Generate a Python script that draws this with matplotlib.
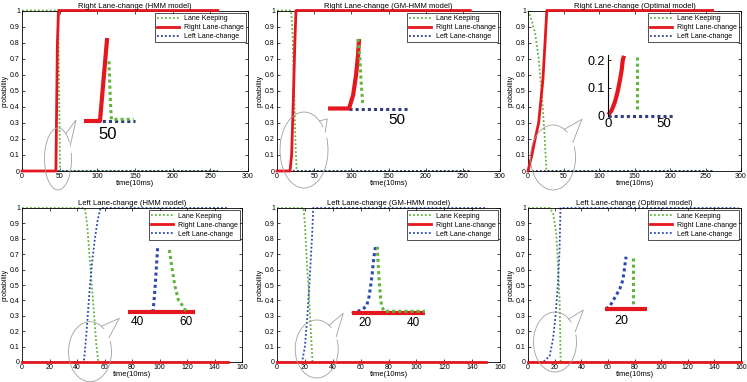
import math
import matplotlib
matplotlib.use("Agg")
import matplotlib.pyplot as plt
from matplotlib.patches import Arc
from matplotlib.lines import Line2D
from matplotlib.transforms import Affine2D

plt.rcParams['font.family'] = ['Liberation Sans', 'DejaVu Sans']

W, H = 747, 382
GREEN = '#62b43c'
RED = '#e5161d'
NAVY = '#2f3d80'
BLUE = '#2c48b0'
GRAY = '#a0a0a0'

titles = ["Right Lane-change (HMM model)", "Right Lane-change (GM-HMM model)",
          "Right Lane-change (Optimal model)", "Left Lane-change (HMM model)",
          "Left Lane-change (GM-HMM model)", "Left Lane-change (Optimal model)"]
labels = ["Lane Keeping", "Right Lane-change", "Left Lane-change"]

# --- main curves (time in 10 ms, probability) ---
a_t_lk, a_p_lk = [0, 47, 48.5, 49.5, 50.5, 260], [1, 1, 0.8, 0.4, 0, 0]
a_t_rlc, a_p_rlc = [0, 45, 47, 48.5, 260], [0, 0, 0.8, 1, 1]
a_t_llc, a_p_llc = [0, 260], [0, 0]

b_t_lk, b_p_lk = [0, 19, 21, 23, 25, 26.5, 260], [1, 1, 0.85, 0.5, 0.15, 0, 0]
b_t_rlc, b_p_rlc = [0, 17.5, 19.7, 22, 24, 25.5, 260], [0, 0, 0.1, 0.45, 0.8, 1, 1]
b_t_llc, b_p_llc = [0, 260], [0, 0]

c_t_lk, c_p_lk = [0, 5, 10, 15, 19, 23, 26, 260], [1, 0.94, 0.86, 0.7, 0.5, 0.25, 0, 0]
c_t_rlc, c_p_rlc = [0, 5.5, 10, 15, 21, 24, 26.5, 260], [0, 0.1, 0.2, 0.3, 0.57, 0.8, 1, 1]
c_t_llc, c_p_llc = [0, 260], [0, 0]

d_t_lk, d_p_lk = [0, 45.8, 47.5, 49, 50.7, 52.5, 54, 55.5, 150], [1, 1, 0.88, 0.7, 0.5, 0.3, 0.12, 0, 0]
d_t_rlc, d_p_rlc = [0, 150], [0, 0]
d_t_llc, d_p_llc = [0, 45, 47, 49, 51, 53, 55, 57, 150], [0, 0, 0.2, 0.45, 0.65, 0.8, 0.92, 1, 1]

e_t_lk, e_p_lk = [0, 19, 20, 21, 22.5, 24, 25.5, 150], [1, 1, 0.9, 0.72, 0.5, 0.25, 0, 0]
e_t_rlc, e_p_rlc = [0, 150], [0, 0]
e_t_llc, e_p_llc = [0, 18, 20, 21.8, 23.2, 25.3, 26, 150], [0, 0, 0.1, 0.3, 0.5, 0.84, 1, 1]

f_t_lk, f_p_lk = [0, 16, 18.8, 21.2, 22.5, 23.7, 24.2, 24.5, 160], [1, 1, 0.97, 0.84, 0.62, 0.41, 0.19, 0, 0]
f_t_rlc, f_p_rlc = [0, 160], [0, 0]
f_t_llc, f_p_llc = [0, 11.4, 16.3, 18.8, 20.7, 22.5, 23.7, 24.4, 158], [0, 0, 0.04, 0.15, 0.3, 0.51, 0.73, 1, 1]

# --- zoomed insets ---
ia_t_lk, ia_p_lk = [50.6, 51.2, 51.8, 52.2, 66], [0.72, 0.4, 0.12, 0.02, 0.02]
ia_t_rlc, ia_p_rlc = [35, 45, 49.5], [0, 0, 1]
ia_t_llc, ia_p_llc = [35, 67], [0, 0]

ib_t_lk, ib_p_lk = [24, 25.3, 26, 27.1], [1, 0.7, 0.41, 0.08]
ib_t_rlc, ib_p_rlc = [4, 18, 20.7, 22.7, 24, 24.7], [0, 0, 0.19, 0.48, 0.77, 1]
ib_t_llc, ib_p_llc = [18, 58.7], [0, 0]

ic_t_lk, ic_p_lk = [25.9, 25.9], [0.21, 0.02]
ic_t_rlc, ic_p_rlc = [0.6, 3.6, 6.5, 8.9, 11, 12.5, 13.4, 14.6], [0.003, 0.02, 0.05, 0.087, 0.129, 0.165, 0.2, 0.215]
ic_t_llc, ic_p_llc = [0, 60], [0, 0]

id_t_lk, id_p_lk = [53.2, 54.2, 55.5, 56.9, 58.9, 60], [0.97, 0.71, 0.4, 0.185, 0.08, 0.01]
id_t_rlc, id_p_rlc = [36.3, 63.7], [0, 0]
id_t_llc, id_p_llc = [36.3, 46.5, 46.9, 47.5, 48.0, 48.4], [0, 0, 0.15, 0.45, 0.75, 1]

ie_t_lk, ie_p_lk = [25.2, 25.6, 26, 26.6, 27, 28, 44.8], [0.99, 0.69, 0.45, 0.2, 0.1, 0.03, 0.03]
ie_t_rlc, ie_p_rlc = [14.7, 44.8], [0, 0]
ie_t_llc, ie_p_llc = [14.7, 18.8, 20.8, 21.8, 22.6, 23.1, 23.5, 24, 24.5], [0, 0.05, 0.11, 0.25, 0.45, 0.59, 0.74, 0.89, 1]

if_t_lk, if_p_lk = [24.75, 24.75], [0.97, 0.04]
if_t_rlc, if_p_rlc = [13.2, 30.6], [0, 0]
if_t_llc, if_p_llc = [13.6, 15.3, 16.7, 18.1, 19.5, 20.4, 21.1, 21.5, 22], [0, 0.06, 0.17, 0.28, 0.4, 0.52, 0.68, 0.84, 1]

fig = plt.figure(figsize=(W / 100, H / 100), dpi=100)
# pixel coordinates measured from the top-left corner of the picture
px = Affine2D().scale(1 / W, -1 / H).translate(0, 1) + fig.transFigure


def box_axes(x0, x1, ytop, ybot):
    return fig.add_axes([x0 / W, 1 - ybot / H, (x1 - x0) / W, (ybot - ytop) / H])


def main_panel(box, title, xmax, xstep, lk, rlc, llc, blue):
    ax = box_axes(*box)
    ax.plot(lk[0], lk[1], color=GREEN, lw=1.3, ls=(0, (1, 1.2)), label=labels[0], clip_on=False)
    ax.plot(rlc[0], rlc[1], color=RED, lw=2.0, label=labels[1], clip_on=False, zorder=3)
    ax.plot(llc[0], llc[1], color=blue, lw=1.3, ls=(0, (1, 1.2)), label=labels[2], clip_on=False)
    ax.set_xlim(0, xmax)
    ax.set_ylim(0, 1)
    ax.set_xticks(range(0, xmax + 1, xstep))
    ax.set_yticks([i / 10 for i in range(11)])
    ax.set_yticklabels(['0'] + ['%.1f' % (i / 10) for i in range(1, 10)] + ['1'])
    ax.tick_params(direction='in', length=2, width=0.5, top=True, right=True,
                   labelsize=5, pad=1.5)
    for s in ax.spines.values():
        s.set_linewidth(0.6)
    ax.set_title(title, fontsize=5.5, pad=2)
    ax.set_xlabel("time(10ms)", fontsize=5.5, labelpad=0)
    ax.set_ylabel("probability", fontsize=5, labelpad=1)
    leg = ax.legend(loc='upper right', fontsize=5, fancybox=False, edgecolor='black',
                    borderaxespad=0.35, handlelength=3.2, labelspacing=0.3,
                    borderpad=0.3, handletextpad=0.6)
    leg.get_frame().set_linewidth(0.6)
    return ax


def inset(box, xlim, ylim, lk, rlc, llc, blue, ticks, fs, pad):
    ax = box_axes(*box)
    ax.plot(llc[0], llc[1], color=blue, lw=2.2, ls=(0, (1, 1)), clip_on=False)
    ax.plot(rlc[0], rlc[1], color=RED, lw=3, clip_on=False, solid_capstyle='butt')
    ax.plot(lk[0], lk[1], color=GREEN, lw=2.2, ls=(0, (1, 1)), clip_on=False)
    ax.set_xlim(*xlim)
    ax.set_ylim(*ylim)
    ax.patch.set_visible(False)
    for s in ax.spines.values():
        s.set_visible(False)
    ax.set_yticks([])
    ax.set_xticks(ticks)
    ax.set_xticklabels([str(t) for t in ticks])
    ax.tick_params(axis='x', length=0, labelsize=fs, pad=pad)
    return ax


def bubble(cx, cy, w, h, g1, g2, tip):
    fig.add_artist(Arc((cx, cy), w, h, theta1=g2, theta2=g1 + 360,
                       transform=px, color=GRAY, lw=0.6))
    p1 = (cx + w / 2 * math.cos(math.radians(g1)), cy + h / 2 * math.sin(math.radians(g1)))
    p2 = (cx + w / 2 * math.cos(math.radians(g2)), cy + h / 2 * math.sin(math.radians(g2)))
    fig.add_artist(Line2D([p1[0], tip[0], p2[0]], [p1[1], tip[1], p2[1]],
                          transform=px, color=GRAY, lw=0.6))


# top row
main_panel((22, 248, 10.5, 171), titles[0], 300, 50,
           (a_t_lk, a_p_lk), (a_t_rlc, a_p_rlc), (a_t_llc, a_p_llc), NAVY)
main_panel((277, 500, 10.5, 171), titles[1], 300, 50,
           (b_t_lk, b_p_lk), (b_t_rlc, b_p_rlc), (b_t_llc, b_p_llc), NAVY)
main_panel((528, 741, 10.5, 171), titles[2], 300, 50,
           (c_t_lk, c_p_lk), (c_t_rlc, c_p_rlc), (c_t_llc, c_p_llc), NAVY)
# bottom row
main_panel((22, 242, 208, 362), titles[3], 160, 20,
           (d_t_lk, d_p_lk), (d_t_rlc, d_p_rlc), (d_t_llc, d_p_llc), BLUE)
main_panel((277, 500, 208, 362), titles[4], 160, 20,
           (e_t_lk, e_p_lk), (e_t_rlc, e_p_rlc), (e_t_llc, e_p_llc), BLUE)
main_panel((528, 741, 208, 362), titles[5], 160, 20,
           (f_t_lk, f_p_lk), (f_t_rlc, f_p_rlc), (f_t_llc, f_p_llc), BLUE)

# insets
inset((83, 135, 38, 121), (34.4, 66.9), (0, 1), (ia_t_lk, ia_p_lk), (ia_t_rlc, ia_p_rlc),
      (ia_t_llc, ia_p_llc), NAVY, [50], 12, 4)
inset((326.7, 410, 39, 108.5), (3.1, 58.7), (0, 1), (ib_t_lk, ib_p_lk), (ib_t_rlc, ib_p_rlc),
      (ib_t_llc, ib_p_llc), NAVY, [50], 11, 3.5)
axc = inset((607.7, 675, 55, 115.7), (0, 60), (0, 0.218), (ic_t_lk, ic_p_lk), (ic_t_rlc, ic_p_rlc),
            (ic_t_llc, ic_p_llc), NAVY, [0, 50], 9.5, 2)
axc.spines['left'].set_visible(True)
axc.spines['left'].set_linewidth(0.8)
axc.set_yticks([0, 0.1, 0.2])
axc.set_yticklabels(['0', '0.1', '0.2'])
axc.tick_params(axis='y', direction='in', length=2, width=0.6, labelsize=9, pad=2)
inset((128, 195, 248, 311.7), (36.3, 63.7), (0, 1), (id_t_lk, id_p_lk), (id_t_rlc, id_p_rlc),
      (id_t_llc, id_p_llc), BLUE, [40, 60], 8.5, 3)
inset((351.7, 425, 246, 313.3), (14.65, 44.8), (0, 1), (ie_t_lk, ie_p_lk), (ie_t_rlc, ie_p_rlc),
      (ie_t_llc, ie_p_llc), BLUE, [20, 40], 8.5, 3)
inset((605, 646.7, 256.7, 309), (13.2, 30.6), (0, 1), (if_t_lk, if_p_lk), (if_t_rlc, if_p_rlc),
      (if_t_llc, if_p_llc), BLUE, [20], 9, 4)

# speech bubbles marking the zoomed region
bubble(58, 159, 27, 62, -55, -25, (76, 120))
bubble(304, 150, 48, 76, -50, -28, (327.3, 119))
bubble(553, 157.5, 45, 65, -60, -28, (582, 119.3))
bubble(90, 351.7, 43, 60, -58, -28, (119.3, 318.3))
bubble(316.7, 349, 43, 58, -55, -25, (343.3, 313.3))
bubble(555, 342, 43, 60, -50, -20, (583.3, 310))

fig.savefig("out.png", dpi=100)
